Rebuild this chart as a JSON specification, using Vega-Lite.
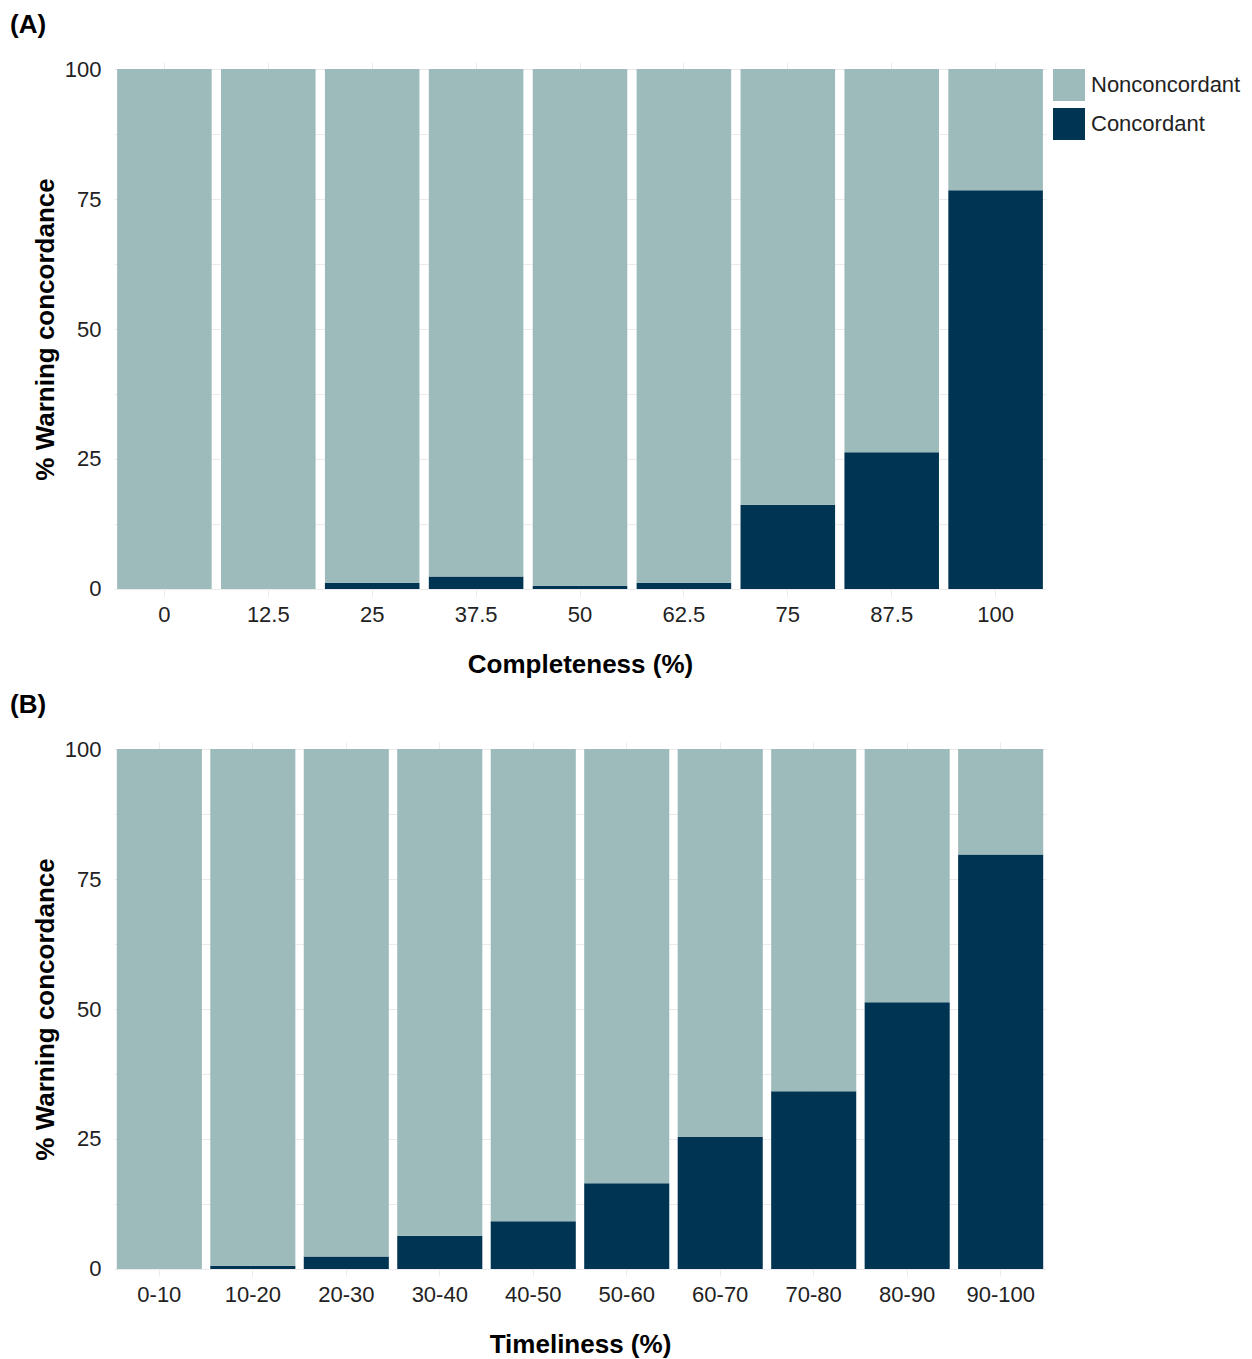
{
  "$schema": "https://vega.github.io/schema/vega-lite/v6.json",
  "padding": {"left": 10, "top": 12, "right": 2, "bottom": 5},
  "background": "white",
  "config": {
    "font": "Liberation Sans",
    "view": {"stroke": null},
    "axis": {
      "labelFont": "Liberation Sans", "labelFontSize": 22, "labelColor": "#222",
      "titleFont": "Liberation Sans", "titleFontSize": 26, "titleFontWeight": "bold", "titleColor": "#000",
      "domain": false, "ticks": false, "gridColor": "#ebebeb", "gridWidth": 1
    },
    "axisY": {"labelPadding": 13, "titlePadding": 6},
    "axisX": {"labelPadding": 8, "titlePadding": 26, "labelAngle": 0},
    "legend": {
      "orient": "right", "offset": 0, "padding": 7, "symbolType": "square", "symbolSize": 1024,
      "labelFont": "Liberation Sans", "labelFontSize": 22, "labelColor": "#222",
      "rowPadding": 7, "labelOffset": 6, "symbolStrokeWidth": 0, "symbolOpacity": 1
    },
    "title": {"fontSize": 26, "fontWeight": "bold", "anchor": "start", "frame": "group", "dx": -104, "offset": 20, "color": "#000", "font": "Liberation Sans"}
  },
  "datasets": {
    "a": [
      {"completeness": "0", "status": "Concordant", "pct": 0},
      {"completeness": "0", "status": "Nonconcordant", "pct": 100},
      {"completeness": "12.5", "status": "Concordant", "pct": 0},
      {"completeness": "12.5", "status": "Nonconcordant", "pct": 100},
      {"completeness": "25", "status": "Concordant", "pct": 1.2},
      {"completeness": "25", "status": "Nonconcordant", "pct": 98.8},
      {"completeness": "37.5", "status": "Concordant", "pct": 2.4},
      {"completeness": "37.5", "status": "Nonconcordant", "pct": 97.6},
      {"completeness": "50", "status": "Concordant", "pct": 0.6},
      {"completeness": "50", "status": "Nonconcordant", "pct": 99.4},
      {"completeness": "62.5", "status": "Concordant", "pct": 1.2},
      {"completeness": "62.5", "status": "Nonconcordant", "pct": 98.8},
      {"completeness": "75", "status": "Concordant", "pct": 16.2},
      {"completeness": "75", "status": "Nonconcordant", "pct": 83.8},
      {"completeness": "87.5", "status": "Concordant", "pct": 26.3},
      {"completeness": "87.5", "status": "Nonconcordant", "pct": 73.7},
      {"completeness": "100", "status": "Concordant", "pct": 76.7},
      {"completeness": "100", "status": "Nonconcordant", "pct": 23.3}
    ],
    "b": [
      {"timeliness": "0-10", "status": "Concordant", "pct": 0},
      {"timeliness": "0-10", "status": "Nonconcordant", "pct": 100},
      {"timeliness": "10-20", "status": "Concordant", "pct": 0.6},
      {"timeliness": "10-20", "status": "Nonconcordant", "pct": 99.4},
      {"timeliness": "20-30", "status": "Concordant", "pct": 2.4},
      {"timeliness": "20-30", "status": "Nonconcordant", "pct": 97.6},
      {"timeliness": "30-40", "status": "Concordant", "pct": 6.4},
      {"timeliness": "30-40", "status": "Nonconcordant", "pct": 93.6},
      {"timeliness": "40-50", "status": "Concordant", "pct": 9.2},
      {"timeliness": "40-50", "status": "Nonconcordant", "pct": 90.8},
      {"timeliness": "50-60", "status": "Concordant", "pct": 16.5},
      {"timeliness": "50-60", "status": "Nonconcordant", "pct": 83.5},
      {"timeliness": "60-70", "status": "Concordant", "pct": 25.4},
      {"timeliness": "60-70", "status": "Nonconcordant", "pct": 74.6},
      {"timeliness": "70-80", "status": "Concordant", "pct": 34.2},
      {"timeliness": "70-80", "status": "Nonconcordant", "pct": 65.8},
      {"timeliness": "80-90", "status": "Concordant", "pct": 51.3},
      {"timeliness": "80-90", "status": "Nonconcordant", "pct": 48.7},
      {"timeliness": "90-100", "status": "Concordant", "pct": 79.7},
      {"timeliness": "90-100", "status": "Nonconcordant", "pct": 20.3}
    ]
  },
  "vconcat": [
    {
      "data": {"name": "a"},
      "title": "(A)",
      "width": 932,
      "height": 534,
      "mark": {"type": "bar"},
      "encoding": {
        "x": {
          "field": "completeness", "type": "ordinal",
          "sort": ["0", "12.5", "25", "37.5", "50", "62.5", "75", "87.5", "100"],
          "title": "Completeness (%)",
          "scale": {"paddingInner": 0.09, "paddingOuter": 0.03},
          "axis": {"grid": true, "bandPosition": 0.5}
        },
        "y": {
          "field": "pct", "type": "quantitative", "stack": "zero",
          "scale": {"domain": [-1.35, 101.35], "nice": false, "zero": false},
          "axis": {
            "values": [0, 12.5, 25, 37.5, 50, 62.5, 75, 87.5, 100],
            "labelExpr": "datum.value % 25 === 0 ? datum.label : ''",
            "title": "% Warning  concordance"
          }
        },
        "color": {
          "field": "status", "type": "nominal",
          "scale": {"domain": ["Nonconcordant", "Concordant"], "range": ["#9DBBBB", "#003453"]},
          "legend": {"title": null}
        },
        "order": {"field": "status", "sort": "ascending"}
      }
    },
    {
      "data": {"name": "b"},
      "title": "(B)",
      "width": 932,
      "height": 534,
      "mark": {"type": "bar"},
      "encoding": {
        "x": {
          "field": "timeliness", "type": "ordinal",
          "sort": ["0-10", "10-20", "20-30", "30-40", "40-50", "50-60", "60-70", "70-80", "80-90", "90-100"],
          "title": "Timeliness (%)",
          "scale": {"paddingInner": 0.09, "paddingOuter": 0.03},
          "axis": {"grid": true, "bandPosition": 0.5}
        },
        "y": {
          "field": "pct", "type": "quantitative", "stack": "zero",
          "scale": {"domain": [-1.35, 101.35], "nice": false, "zero": false},
          "axis": {
            "values": [0, 12.5, 25, 37.5, 50, 62.5, 75, 87.5, 100],
            "labelExpr": "datum.value % 25 === 0 ? datum.label : ''",
            "title": "% Warning concordance"
          }
        },
        "color": {
          "field": "status", "type": "nominal",
          "scale": {"domain": ["Nonconcordant", "Concordant"], "range": ["#9DBBBB", "#003453"]},
          "legend": null
        },
        "order": {"field": "status", "sort": "ascending"}
      }
    }
  ],
  "spacing": 15,
  "resolve": {"scale": {"x": "independent"}, "legend": {"color": "independent"}}
}
